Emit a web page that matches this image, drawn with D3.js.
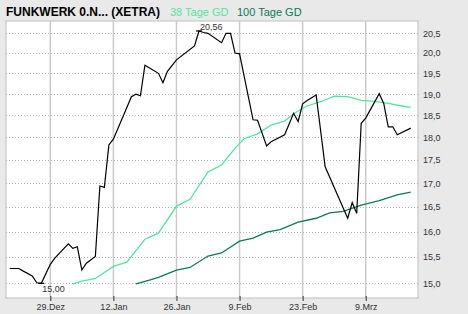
<!DOCTYPE html>
<html>
<head>
<meta charset="utf-8">
<script src="https://cdn.jsdelivr.net/npm/d3@7"></script>
<style>
  body { margin: 0; background: #e9e9e9; }
  svg { display: block; font-family: "Liberation Sans", Arial, sans-serif; }
</style>
</head>
<body>
<div id="chart"></div>
<script>
var svgWidth = 468;
var svgHeight = 314;

// plot box inside the grey frame
var plot = { left: 6, top: 21, right: 418, bottom: 298 };

// closing prices (XETRA)
var closeDates = [
  "2014-12-20", "2014-12-22", "2014-12-23", "2014-12-25", "2014-12-26", "2014-12-27",
  "2014-12-29", "2014-12-30", "2015-01-02", "2015-01-03", "2015-01-04", "2015-01-05",
  "2015-01-06", "2015-01-08", "2015-01-09", "2015-01-10", "2015-01-11", "2015-01-12",
  "2015-01-16", "2015-01-17", "2015-01-18", "2015-01-19", "2015-01-22", "2015-01-23",
  "2015-01-24", "2015-01-26", "2015-01-30", "2015-01-31", "2015-02-01", "2015-02-02",
  "2015-02-05", "2015-02-06", "2015-02-07", "2015-02-08", "2015-02-09", "2015-02-12",
  "2015-02-13", "2015-02-15", "2015-02-16", "2015-02-19", "2015-02-21", "2015-02-22",
  "2015-02-23", "2015-02-24", "2015-02-26", "2015-02-28", "2015-03-05", "2015-03-06",
  "2015-03-07", "2015-03-08", "2015-03-09", "2015-03-12", "2015-03-13", "2015-03-14",
  "2015-03-15", "2015-03-16", "2015-03-19"
];
var closePrices = [
  15.28, 15.28, 15.23, 15.14, 15.01, 15.00,
  15.36, 15.48, 15.76, 15.67, 15.70, 15.25,
  15.38, 15.51, 16.94, 16.91, 17.83, 17.96,
  18.94, 19.00, 18.96, 19.70, 19.50, 19.27,
  19.55, 19.83, 20.18, 20.56, 20.52, 20.50,
  20.26, 20.50, 20.50, 20.00, 19.98, 18.40,
  18.39, 17.81, 17.90, 18.06, 18.55, 18.36,
  18.77, 18.85, 18.98, 17.35, 16.27, 16.59,
  16.37, 18.32, 18.44, 19.01, 18.78, 18.24,
  18.24, 18.06, 18.21
];

// 38 Tage GD
var ma38Dates = [
  "2015-01-03", "2015-01-05", "2015-01-08", "2015-01-12", "2015-01-15", "2015-01-19",
  "2015-01-22", "2015-01-26", "2015-01-29", "2015-02-02", "2015-02-05", "2015-02-08",
  "2015-02-10", "2015-02-13", "2015-02-16", "2015-02-19", "2015-02-21", "2015-02-24",
  "2015-02-27", "2015-03-02", "2015-03-05", "2015-03-08", "2015-03-11", "2015-03-14",
  "2015-03-17", "2015-03-19"
];
var ma38Values = [
  14.99, 15.04, 15.09, 15.32, 15.40, 15.85,
  15.97, 16.52, 16.66, 17.24, 17.39, 17.76,
  17.97, 18.08, 18.28, 18.37, 18.54, 18.72,
  18.82, 18.95, 18.94, 18.85, 18.83, 18.78,
  18.72, 18.69
];

// 100 Tage GD
var ma100Dates = [
  "2015-01-17", "2015-01-20", "2015-01-22", "2015-01-26", "2015-01-29", "2015-02-02",
  "2015-02-05", "2015-02-09", "2015-02-12", "2015-02-15", "2015-02-18", "2015-02-22",
  "2015-02-26", "2015-03-01", "2015-03-04", "2015-03-08", "2015-03-12", "2015-03-16",
  "2015-03-19"
];
var ma100Values = [
  14.99, 15.06, 15.11, 15.25, 15.30, 15.52,
  15.58, 15.81, 15.87, 15.99, 16.04, 16.19,
  16.27, 16.38, 16.41, 16.54, 16.63, 16.75,
  16.81
];

var xTickDates = ["2014-12-29", "2015-01-12", "2015-01-26", "2015-02-09", "2015-02-23", "2015-03-09"];
var xTickLabels = ["29.Dez", "12.Jan", "26.Jan", "9.Feb", "23.Feb", "9.Mrz"];
var yTicks = [15.0, 15.5, 16.0, 16.5, 17.0, 17.5, 18.0, 18.5, 19.0, 19.5, 20.0, 20.5];

var parseDate = d3.utcParse("%Y-%m-%d");
var commaFmt = function(fmt) {
  return function(v) { return d3.format(fmt)(v).replace(".", ","); };
};

function pairs(dates, values) {
  return dates.map(function(d, i) {
    return { date: parseDate(d), value: values[i] };
  });
}

var closeData = pairs(closeDates, closePrices);
var ma38Data = pairs(ma38Dates, ma38Values);
var ma100Data = pairs(ma100Dates, ma100Values);

var svg = d3.select("#chart")
  .append("svg")
  .attr("width", svgWidth)
  .attr("height", svgHeight);

svg.append("rect")
  .attr("width", svgWidth)
  .attr("height", svgHeight)
  .attr("fill", "#e9e9e9");

var xScale = d3.scaleUtc()
  .domain([new Date(Date.UTC(2014, 11, 19, 4)), new Date(Date.UTC(2015, 2, 20, 14, 30))])
  .range([plot.left, plot.right]);

var yScale = d3.scaleLog()
  .domain([15, 20.5])
  .range([283.3, 33.3]);

// plot background
svg.append("rect")
  .attr("x", plot.left)
  .attr("y", plot.top)
  .attr("width", plot.right - plot.left)
  .attr("height", plot.bottom - plot.top)
  .attr("fill", "#fff")
  .attr("stroke", "#c8c8c8")
  .attr("stroke-width", 1.2);

// vertical grid
svg.append("g")
  .selectAll("line")
  .data(xTickDates)
  .enter()
  .append("line")
  .attr("x1", function(d) { return xScale(parseDate(d)); })
  .attr("x2", function(d) { return xScale(parseDate(d)); })
  .attr("y1", plot.top)
  .attr("y2", plot.bottom)
  .attr("stroke", "#cacaca")
  .attr("stroke-width", 1.5);

// horizontal dotted grid
svg.append("g")
  .selectAll("line")
  .data(yTicks)
  .enter()
  .append("line")
  .attr("x1", plot.left)
  .attr("x2", plot.right)
  .attr("y1", function(d) { return Math.round(yScale(d)) + 0.5; })
  .attr("y2", function(d) { return Math.round(yScale(d)) + 0.5; })
  .attr("stroke", "#b4b4b4")
  .attr("stroke-dasharray", "1,2");

// x axis ticks + labels
var xAxis = d3.axisBottom(xScale)
  .tickValues(xTickDates.map(parseDate))
  .tickFormat(function(d, i) { return xTickLabels[i]; })
  .tickSize(5)
  .tickSizeOuter(0);

var gx = svg.append("g")
  .attr("transform", "translate(0," + (plot.bottom - 2) + ")")
  .call(xAxis);
gx.select(".domain").remove();
gx.selectAll("line").attr("stroke", "#333");
gx.selectAll("text")
  .attr("y", 8)
  .attr("fill", "#333")
  .style("font-size", "9px")
  .style("font-family", "'Liberation Sans', Arial, sans-serif");

// y axis labels at the right
var yAxis = d3.axisRight(yScale)
  .tickValues(yTicks)
  .tickFormat(commaFmt(".1f"))
  .tickSize(0)
  .tickPadding(0);

var gy = svg.append("g")
  .attr("transform", "translate(423,0)")
  .call(yAxis);
gy.select(".domain").remove();
gy.selectAll("text")
  .attr("fill", "#333")
  .style("font-size", "9px")
  .style("font-family", "'Liberation Sans', Arial, sans-serif");

var line = d3.line()
  .x(function(d) { return xScale(d.date); })
  .y(function(d) { return yScale(d.value); });

svg.append("path")
  .datum(ma100Data)
  .attr("d", line)
  .attr("fill", "none")
  .attr("stroke", "#0b7a55")
  .attr("stroke-width", 1.3);

svg.append("path")
  .datum(ma38Data)
  .attr("d", line)
  .attr("fill", "none")
  .attr("stroke", "#4fe79b")
  .attr("stroke-width", 1.3);

svg.append("path")
  .datum(closeData)
  .attr("d", line)
  .attr("fill", "none")
  .attr("stroke", "#000")
  .attr("stroke-width", 1.2);

// high / low markers
var hi = closeData[d3.maxIndex(closeData, function(d) { return d.value; })];
var lo = closeData[d3.minIndex(closeData, function(d) { return d.value; })];

[hi, lo].forEach(function(p, i) {
  var px = xScale(p.date);
  var py = yScale(p.value);
  svg.append("line")
    .attr("x1", px - 3)
    .attr("x2", px + 3)
    .attr("y1", py)
    .attr("y2", py)
    .attr("stroke", "#000")
    .attr("stroke-width", 1.2);
  svg.append("text")
    .attr("x", px + 1)
    .attr("y", i === 0 ? py - 1 : py + 8.5)
    .attr("fill", "#333")
    .style("font-size", "9px")
    .text(commaFmt(".2f")(p.value));
});

// title and legend
svg.append("text")
  .attr("x", 6)
  .attr("y", 15.5)
  .attr("fill", "#000")
  .style("font-size", "12px")
  .style("font-weight", "bold")
  .text("FUNKWERK 0.N... (XETRA)");

svg.append("text")
  .attr("x", 170)
  .attr("y", 15.5)
  .attr("fill", "#4fe79b")
  .style("font-size", "11px")
  .text("38 Tage GD");

svg.append("text")
  .attr("x", 237)
  .attr("y", 15.5)
  .attr("fill", "#0b7a55")
  .style("font-size", "11px")
  .text("100 Tage GD");
</script>
</body>
</html>
